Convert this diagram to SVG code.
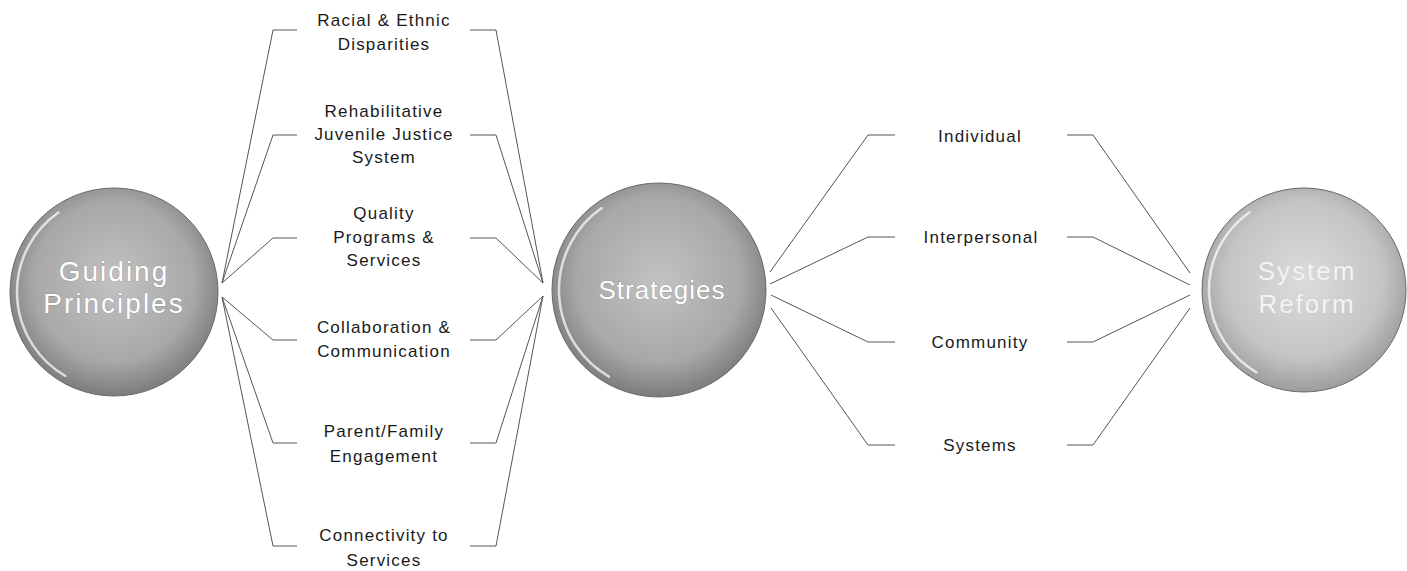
<svg xmlns="http://www.w3.org/2000/svg" width="1407" height="571" viewBox="0 0 1407 571">
  <style>
    .lbl { font-family: "Liberation Sans", Arial, sans-serif; font-size: 17px; fill: #1a1a1a; text-anchor: middle; letter-spacing: 1.2px; }
    .big { font-family: "Liberation Sans", Arial, sans-serif; font-size: 26px; fill: #ffffff; text-anchor: middle; letter-spacing: 2px; stroke: #8a8a8a; stroke-width: 0.6px; paint-order: stroke; }
    .big.gp { font-size: 28px; letter-spacing: 2px; }
    .big.st { letter-spacing: 1px; }
    .big.light { stroke: #c8c8c8; fill: #f4f4f4; }
    .conn { fill: none; stroke: #555555; stroke-width: 1; }
    .hl { fill: none; stroke: #ffffff; stroke-width: 2.5; stroke-opacity: 0.7; stroke-linecap: round; }
    .rim { stroke: #6a6a6a; stroke-width: 1; }
  </style>
  <defs>
    <radialGradient id="sphere" cx="50%" cy="45%" r="55%">
      <stop offset="0%" stop-color="#c2c2c2"/>
      <stop offset="70%" stop-color="#a8a8a8"/>
      <stop offset="100%" stop-color="#7c7c7c"/>
    </radialGradient>
    <radialGradient id="sphereLight" cx="50%" cy="45%" r="55%">
      <stop offset="0%" stop-color="#dcdcdc"/>
      <stop offset="70%" stop-color="#c4c4c4"/>
      <stop offset="100%" stop-color="#9c9c9c"/>
    </radialGradient>
  </defs>

  <rect width="1407" height="571" fill="#ffffff"/>

  <g id="connectors">
    <path class="conn" d="M222,283 L273,30 L297,30"/>
    <path class="conn" d="M222,283 L273,135 L297,135"/>
    <path class="conn" d="M222,283 L273,238 L297,238"/>
    <path class="conn" d="M222,297 L273,340 L297,340"/>
    <path class="conn" d="M222,297 L273,443 L297,443"/>
    <path class="conn" d="M222,297 L273,546 L297,546"/>

    <path class="conn" d="M470,30 L496,30 L543,283"/>
    <path class="conn" d="M470,135 L496,135 L543,283"/>
    <path class="conn" d="M470,238 L496,238 L543,283"/>
    <path class="conn" d="M470,340 L496,340 L543,296"/>
    <path class="conn" d="M470,443 L496,443 L543,296"/>
    <path class="conn" d="M470,546 L496,546 L543,296"/>

    <path class="conn" d="M770,272 L868,135 L895,135"/>
    <path class="conn" d="M770,284 L868,237 L895,237"/>
    <path class="conn" d="M771,295 L868,342 L895,342"/>
    <path class="conn" d="M771,308 L868,445 L895,445"/>

    <path class="conn" d="M1067,135 L1093,135 L1190,273"/>
    <path class="conn" d="M1067,237 L1093,237 L1190,285"/>
    <path class="conn" d="M1067,342 L1093,342 L1190,295"/>
    <path class="conn" d="M1067,445 L1093,445 L1190,308"/>
  </g>

  <g id="node-guiding-principles" transform="translate(114,292)">
    <circle class="rim" r="104" fill="url(#sphere)"/>
    <path class="hl" d="M-55.6,-79.5 A97,97 0 0 0 -48.5,84"/>
    <text class="big gp" x="0" y="-11">Guiding</text>
    <text class="big gp" x="0" y="21">Principles</text>
  </g>

  <g id="node-strategies" transform="translate(659,290)">
    <circle class="rim" r="107" fill="url(#sphere)"/>
    <path class="hl" d="M-57.4,-81.9 A100,100 0 0 0 -50,86.6"/>
    <text class="big st" x="3" y="9">Strategies</text>
  </g>

  <g id="node-system-reform" transform="translate(1304,290)">
    <circle class="rim" r="102" fill="url(#sphereLight)"/>
    <path class="hl" d="M-54.5,-77.8 A95,95 0 0 0 -47.5,82.3"/>
    <text class="big light" x="3" y="-10">System</text>
    <text class="big light" x="3" y="23">Reform</text>
  </g>

  <g id="label-racial">
    <text class="lbl" x="384" y="26">Racial &amp; Ethnic</text>
    <text class="lbl" x="384" y="50">Disparities</text>
  </g>
  <g id="label-rehabilitative">
    <text class="lbl" x="384" y="117">Rehabilitative</text>
    <text class="lbl" x="384" y="140">Juvenile Justice</text>
    <text class="lbl" x="384" y="163">System</text>
  </g>
  <g id="label-quality">
    <text class="lbl" x="384" y="219">Quality</text>
    <text class="lbl" x="384" y="243">Programs &amp;</text>
    <text class="lbl" x="384" y="266">Services</text>
  </g>
  <g id="label-collaboration">
    <text class="lbl" x="384" y="333">Collaboration &amp;</text>
    <text class="lbl" x="384" y="357">Communication</text>
  </g>
  <g id="label-parent">
    <text class="lbl" x="384" y="437">Parent/Family</text>
    <text class="lbl" x="384" y="462">Engagement</text>
  </g>
  <g id="label-connectivity">
    <text class="lbl" x="384" y="541">Connectivity to</text>
    <text class="lbl" x="384" y="566">Services</text>
  </g>

  <g id="label-individual">
    <text class="lbl" x="980" y="142">Individual</text>
  </g>
  <g id="label-interpersonal">
    <text class="lbl" x="981" y="243">Interpersonal</text>
  </g>
  <g id="label-community">
    <text class="lbl" x="980" y="348">Community</text>
  </g>
  <g id="label-systems">
    <text class="lbl" x="980" y="451">Systems</text>
  </g>
</svg>
